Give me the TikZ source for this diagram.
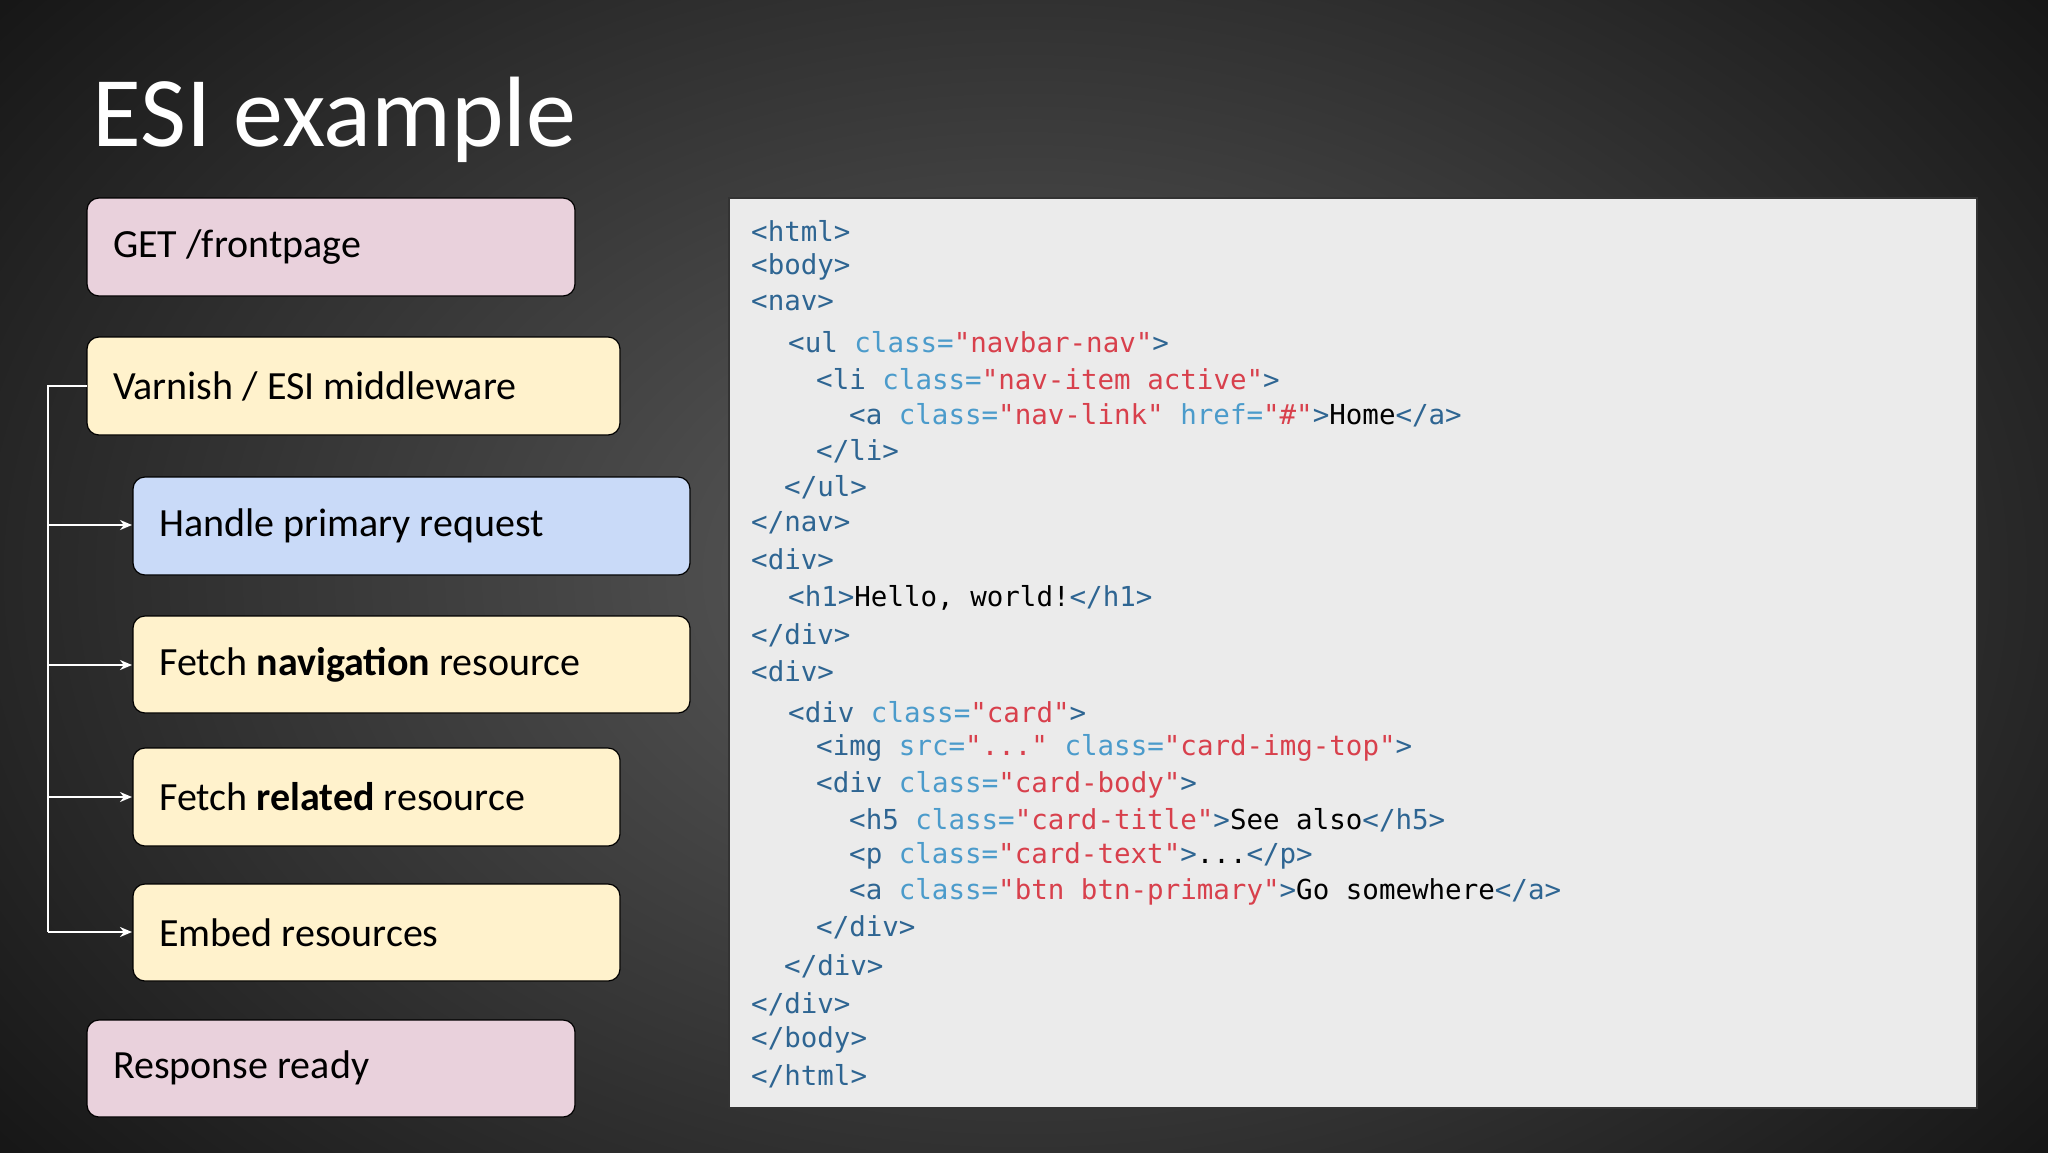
\documentclass[tikz,border=0pt]{standalone}
\usepackage{fontspec}
\usetikzlibrary{arrows.meta}
\setmainfont{Carlito}
\setmonofont{DejaVu Sans Mono}
\definecolor{bgin}{HTML}{5E5E5E}
\definecolor{bgout}{HTML}{161616}
\definecolor{pinkbox}{HTML}{E9D1DC}
\definecolor{yelbox}{HTML}{FFF2CC}
\definecolor{bluebox}{HTML}{C9DAF8}
\definecolor{codebg}{HTML}{EBEBEB}
\definecolor{tagc}{HTML}{2E6592}
\definecolor{attc}{HTML}{4B9BCB}
\definecolor{strc}{HTML}{D8404C}
\newcommand{\tg}[1]{\textcolor{tagc}{#1}}
\newcommand{\atr}[1]{\textcolor{attc}{#1}}
\newcommand{\str}[1]{\textcolor{strc}{#1}}
\begin{document}
\begin{tikzpicture}[x=1pt,y=-1pt,
  bx/.style={draw=black,line width=1.2pt,rounded corners=12pt},
  lbl/.style={anchor=west,inner sep=0pt,font=\fontsize{40}{48}\selectfont},
  cl/.style={anchor=west,inner sep=0pt,font=\ttfamily\fontsize{27.5}{33}\selectfont},
  conn/.style={white,line width=2pt},
  arr/.style={conn,-{Stealth[length=12pt,width=10pt]}}]
\useasboundingbox (0,0) rectangle (2048,1152);
\shade[inner color=bgin,outer color=bgout] (-300,-350) rectangle (2348,1500);
\node[anchor=base west,inner sep=0pt,white,font=\fontsize{100}{110}\selectfont] (title) at (92,146) {ESI example};
\path[bx,fill=pinkbox] (87,198) rectangle (575,296);
\node[lbl] (get) at (113,247) {GET /frontpage};
\path[bx,fill=yelbox] (87,337) rectangle (620,435);
\node[lbl] (var) at (113,386) {Varnish / ESI middleware};
\path[bx,fill=bluebox] (133,477) rectangle (690,575);
\node[lbl] (hpr) at (159,526) {Handle primary request};
\path[bx,fill=yelbox] (133,616) rectangle (690,713);
\node[lbl] (fnr) at (159,665) {Fetch \textbf{navigation} resource};
\path[bx,fill=yelbox] (133,748) rectangle (620,846);
\node[lbl] (frr) at (159,797) {Fetch \textbf{related} resource};
\path[bx,fill=yelbox] (133,884) rectangle (620,981);
\node[lbl] (emb) at (159,933) {Embed resources};
\path[bx,fill=pinkbox] (87,1020) rectangle (575,1117);
\node[lbl] (rr) at (113,1068) {Response ready};
% connectors
\coordinate (vL) at (87,386);
\coordinate (top) at (48,386);
\draw[conn] (vL) -- (top) -- (48,932);
\foreach \y in {525,665,797,932} \draw[arr] (48,\y) -- (132,\y);
% code panel
\path[draw=black!80,line width=1.5pt,fill=codebg] (729,198) rectangle (1977,1108);
\def\xa{751}
\node[cl] (c1) at (\xa,231) {\tg{<html>}};
\node[cl] (c2) at (\xa,267) {\tg{<body>}};
\node[cl] (c3) at (\xa,303) {\tg{<nav>}};
\node[cl] (c4) at (\xa+37,342) {\tg{<ul} \atr{class=}\str{"navbar-nav"}\tg{>}};
\node[cl] (c5) at (\xa+65,379) {\tg{<li} \atr{class=}\str{"nav-item active"}\tg{>}};
\node[cl] (c6) at (\xa+98,415) {\tg{<a} \atr{class=}\str{"nav-link"} \atr{href=}\str{"\#"}\tg{>}Home\tg{</a>}};
\node[cl] (c7) at (\xa+65,451) {\tg{</li>}};
\node[cl] (c8) at (\xa+33,487) {\tg{</ul>}};
\node[cl] (c9) at (\xa,523) {\tg{</nav>}};
\node[cl] (c10) at (\xa,559) {\tg{<div>}};
\node[cl] (c11) at (\xa+37,598) {\tg{<h1>}Hello, world!\tg{</h1>}};
\node[cl] (c12) at (\xa,635) {\tg{</div>}};
\node[cl] (c13) at (\xa,671) {\tg{<div>}};
\node[cl] (c14) at (\xa+37,712) {\tg{<div} \atr{class=}\str{"card"}\tg{>}};
\node[cl] (c15) at (\xa+65,748) {\tg{<img} \atr{src=}\str{"..."} \atr{class=}\str{"card-img-top"}\tg{>}};
\node[cl] (c16) at (\xa+65,785) {\tg{<div} \atr{class=}\str{"card-body"}\tg{>}};
\node[cl] (c17) at (\xa+98,820) {\tg{<h5} \atr{class=}\str{"card-title"}\tg{>}See also\tg{</h5>}};
\node[cl] (c18) at (\xa+98,856) {\tg{<p} \atr{class=}\str{"card-text"}\tg{>}...\tg{</p>}};
\node[cl] (c19) at (\xa+98,892) {\tg{<a} \atr{class=}\str{"btn btn-primary"}\tg{>}Go somewhere\tg{</a>}};
\node[cl] (c20) at (\xa+65,927) {\tg{</div>}};
\node[cl] (c21) at (\xa+33,966) {\tg{</div>}};
\node[cl] (c22) at (\xa,1004) {\tg{</div>}};
\node[cl] (c23) at (\xa,1040) {\tg{</body>}};
\node[cl] (c24) at (\xa,1076) {\tg{</html>}};
\end{tikzpicture}
\end{document}
